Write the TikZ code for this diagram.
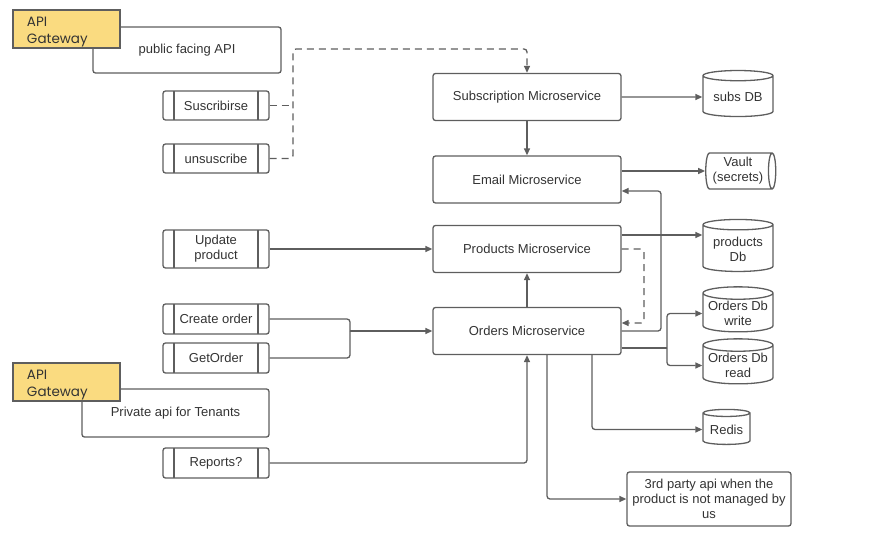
\documentclass[tikz,border=0pt]{standalone}
\usepackage{fontspec}
\setmainfont{Liberation Sans}
\newfontfamily\gwfont{Poppins}
\usetikzlibrary{arrows.meta,shapes.geometric}
\definecolor{linegray}{HTML}{5E5E5E}
\definecolor{textgray}{HTML}{333333}
\definecolor{gwyellow}{HTML}{FADB80}
\newcommand{\gwlabel}{\raisebox{-7pt}[0pt][0pt]{\parbox{79pt}{API\\Gateway}}}
\tikzset{
  every node/.style={font=\fontsize{13}{15}\selectfont, text=textgray},
  arr/.style={-{Triangle[length=7pt,width=6pt]}},
  dsh/.style={dashed, dash pattern=on 7pt off 5pt},
  svc/.style={draw, rounded corners=2.5pt, minimum width=188pt, minimum height=47pt},
  gw/.style={draw, fill=gwyellow, minimum height=38pt, minimum width=107pt, inner xsep=14pt, font=\gwfont\fontsize{13.5}{17}\selectfont},
  apibox/.style={draw, rounded corners=2.5pt, minimum width=106pt, align=center,
    path picture={\draw ([xshift=11pt]path picture bounding box.north west) -- ([xshift=11pt]path picture bounding box.south west);
      \draw ([xshift=-11pt]path picture bounding box.north east) -- ([xshift=-11pt]path picture bounding box.south east);}},
  db/.style={draw, cylinder, shape border rotate=90, aspect=0.2, align=center, inner sep=1pt},
}
\begin{document}
\begin{tikzpicture}[x=1pt,y=-1pt,color=linegray,line width=1.3pt]
\useasboundingbox (0,0) rectangle (880,538);
\node[draw, rounded corners=2.5pt, minimum width=188pt, minimum height=46pt] (pub) at (187,50) {public facing API};
\node[gw] (gw1) at (66.5,29) {\gwlabel};
\node[draw, rounded corners=2.5pt, minimum width=187pt, minimum height=48pt] (priv) at (175.5,413) {Private api for Tenants};
\node[gw] (gw2) at (66.5,382) {\gwlabel};

\node[apibox, minimum height=29pt] (sus) at (216,105.5) {Suscribirse};
\node[apibox, minimum height=29pt] (uns) at (216,158.5) {unsuscribe};
\node[apibox, minimum height=38pt] (upd) at (216,249) {Update\\product};
\node[apibox, minimum height=30pt] (cre) at (216,319) {Create order};
\node[apibox, minimum height=30pt] (get) at (216,358) {GetOrder};
\node[apibox, minimum height=30pt] (rep) at (216,463) {Reports?};

\node[svc] (sub) at (527,97) {Subscription Microservice};
\node[svc] (email) at (527,179.5) {Email Microservice};
\node[svc] (prod) at (527,249) {Products Microservice};
\node[svc] (ord) at (527,331) {Orders Microservice};

\node[db, minimum width=70pt, minimum height=46pt] (subsdb) at (738,97) {subs DB};
\node[draw, cylinder, aspect=0.25, minimum width=36pt, minimum height=70pt, align=center, inner sep=1pt] (vault) at (738,171) {Vault\\(secrets)};
\node[db, minimum width=70pt, minimum height=52pt] (proddb) at (738,249) {products\\Db};
\node[db, minimum width=70pt, minimum height=45pt] (wdb) at (738,313.5) {Orders Db\\write};
\node[db, minimum width=70pt, minimum height=45pt] (rdb) at (738,365.5) {Orders Db\\read};
\node[db, minimum width=47pt, minimum height=35pt] (redis) at (726.5,429.5) {Redis};
\node[draw, rounded corners=2.5pt, minimum width=164pt, minimum height=54pt, align=center, inner sep=2pt] (third) at (709,499) {3rd party api when the\\product is not managed by\\us};

\coordinate (dtop) at (293,49);
\coordinate (pturn) at (644,323);
\coordinate (eturn) at (661,191);
\coordinate (split) at (667,348);
\coordinate (join) at (350,331);

\draw[arr, dsh, rounded corners=3pt] (uns.east) -| (dtop) -| (sub.north);
\draw[dsh] (sus.east) -- (sus.east -| dtop);
\draw[arr] (sub.east) -- (subsdb.west);
\draw[arr] (sub.south) -- (email.north);
\draw[arr] (email.east |- vault.west) -- (vault.west);
\draw[arr] ([yshift=14pt]prod.east) -- ([yshift=14pt]prod.east -| proddb.west);
\draw[arr] (upd.east) -- (prod.west);
\draw[arr] (ord.north) -- (prod.south);
\draw[arr, dsh, rounded corners=3pt] (prod.east) -| (pturn) -- ([yshift=8pt]ord.east);
\draw[arr, rounded corners=3pt] (ord.east) -| (eturn) -- ([yshift=-11.5pt]email.east);
\draw[rounded corners=3pt] ([yshift=-17pt]ord.east) -- (split);
\draw[arr, rounded corners=3pt] (split) |- (wdb.west);
\draw[arr, rounded corners=3pt] (split) |- (rdb.west);
\draw[arr, rounded corners=3pt] ([xshift=65pt]ord.south) |- (redis.west);
\draw[arr, rounded corners=3pt] ([xshift=20pt]ord.south) |- (third.west);
\draw[rounded corners=3pt] (cre.east) -| (join);
\draw[rounded corners=3pt] (get.east) -| (join);
\draw[arr] (join) -- (ord.west);
\draw[arr, rounded corners=3pt] (rep.east) -| (ord.south);
\end{tikzpicture}
\end{document}
